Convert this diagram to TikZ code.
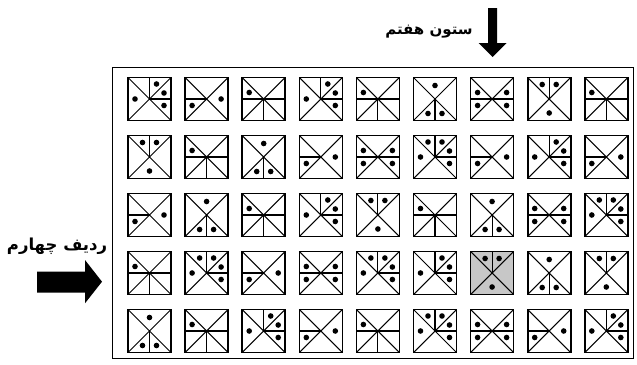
\documentclass[tikz,border=0pt]{standalone}
\usepackage{fontspec}
\newfontfamily\arabicfont[Script=Arabic]{DejaVu Sans}
\TeXXeTstate=1
\tikzset{
  tileborder/.style={line width=1.6pt},
  tileinner/.style={line width=1.05pt},
  tiledot/.style={fill=black},
  tilegray/.style={fill=black!22},
  framebox/.style={line width=1pt},
  labeltext/.style={inner sep=0pt, font=\arabicfont\bfseries},
  pics/tbase/.style={code={
    \draw[tileinner] (0,0)--(43,43) (43,0)--(0,43);
  }},
  pics/tborder/.style={code={
    \draw[tileborder] (0,0) rectangle (43,43);
  }},
  % T1: full horizontal + bottom vertical, dot left-upper
  pics/tone/.style={code={
    \pic{tbase};
    \draw[tileinner] (0,21.5)--(43,21.5) (21.5,21.5)--(21.5,43);
    \fill[tiledot] (7,15) circle (2.8pt);
    \pic{tborder};
  }},
  % T2: left horizontal, dots left-lower and right
  pics/ttwo/.style={code={
    \pic{tbase};
    \draw[tileinner] (0,21.5)--(21.5,21.5);
    \fill[tiledot] (7,28) circle (2.8pt) (36,21.5) circle (2.8pt);
    \pic{tborder};
  }},
  % T3a: top vertical, dots top-left, top-right, bottom
  pics/tthreea/.style={code={
    \pic{tbase};
    \draw[tileinner] (21.5,0)--(21.5,21.5);
    \fill[tiledot] (14.5,7) circle (2.8pt) (28.5,7) circle (2.8pt) (21.5,35.5) circle (2.8pt);
    \pic{tborder};
  }},
  % T3b: bottom vertical, dots top, bottom-left, bottom-right
  pics/tthreeb/.style={code={
    \pic{tbase};
    \draw[tileinner] (21.5,21.5)--(21.5,43);
    \fill[tiledot] (21.5,8) circle (2.8pt) (14.5,36) circle (2.8pt) (28.5,36) circle (2.8pt);
    \pic{tborder};
  }},
  % T4a: full horizontal, four dots
  pics/tfoura/.style={code={
    \pic{tbase};
    \draw[tileinner] (0,21.5)--(43,21.5);
    \fill[tiledot] (7,15) circle (2.8pt) (7,28) circle (2.8pt) (36,15) circle (2.8pt) (36,28) circle (2.8pt);
    \pic{tborder};
  }},
  % T4b: top vertical + right horizontal, dots left, top-right, right-up, right-low
  pics/tfourb/.style={code={
    \pic{tbase};
    \draw[tileinner] (21.5,0)--(21.5,21.5)--(43,21.5);
    \fill[tiledot] (7,21.5) circle (2.8pt) (28.5,6.5) circle (2.8pt) (36,15.5) circle (2.8pt) (36,28) circle (2.8pt);
    \pic{tborder};
  }},
  % T5: top vertical + right horizontal, five dots
  pics/tfive/.style={code={
    \pic{tbase};
    \draw[tileinner] (21.5,0)--(21.5,21.5)--(43,21.5);
    \fill[tiledot] (7,21.5) circle (2.8pt) (14.5,6.5) circle (2.8pt) (28.5,6.5) circle (2.8pt) (36,15.5) circle (2.8pt) (36,28) circle (2.8pt);
    \pic{tborder};
  }},
}
\begin{document}
\begin{tikzpicture}[x=1pt,y=-1pt]
\useasboundingbox (0,0) rectangle (637,364);
\fill[white] (0,0) rectangle (637,364);
\draw[framebox] (112.5,67) rectangle (633,358);

% row 1
\pic (r1c1) at (128,77.5) {tfourb};
\pic (r1c2) at (185.1,77.5) {ttwo};
\pic (r1c3) at (242.2,77.5) {tone};
\pic (r1c4) at (299.3,77.5) {tfourb};
\pic (r1c5) at (356.4,77.5) {tone};
\pic (r1c6) at (413.5,77.5) {tthreeb};
\pic (r1c7) at (470.6,77.5) {tfoura};
\pic (r1c8) at (527.7,77.5) {tthreea};
\pic (r1c9) at (584.8,77.5) {tone};
% row 2
\pic (r2c1) at (128,135.5) {tthreea};
\pic (r2c2) at (185.1,135.5) {tone};
\pic (r2c3) at (242.2,135.5) {tthreeb};
\pic (r2c4) at (299.3,135.5) {ttwo};
\pic (r2c5) at (356.4,135.5) {tfoura};
\pic (r2c6) at (413.5,135.5) {tfive};
\pic (r2c7) at (470.6,135.5) {ttwo};
\pic (r2c8) at (527.7,135.5) {tfourb};
\pic (r2c9) at (584.8,135.5) {ttwo};
% row 3
\pic (r3c1) at (128,193.5) {ttwo};
\pic (r3c2) at (185.1,193.5) {tthreeb};
\pic (r3c3) at (242.2,193.5) {tone};
\pic (r3c4) at (299.3,193.5) {tfourb};
\pic (r3c5) at (356.4,193.5) {tthreea};
\pic (r3c6) at (413.5,193.5) {tone};
\pic (r3c7) at (470.6,193.5) {tthreeb};
\pic (r3c8) at (527.7,193.5) {tfoura};
\pic (r3c9) at (584.8,193.5) {tfive};
% row 4
\pic (r4c1) at (128,251.5) {tone};
\pic (r4c2) at (185.1,251.5) {tfive};
\pic (r4c3) at (242.2,251.5) {ttwo};
\pic (r4c4) at (299.3,251.5) {tfoura};
\pic (r4c5) at (356.4,251.5) {tfive};
\pic (r4c6) at (413.5,251.5) {tfourb};
\fill[tilegray] (470.6,251.5) rectangle +(43,43);
\pic (r4c7) at (470.6,251.5) {tthreea};
\pic (r4c8) at (527.7,251.5) {tthreeb};
\pic (r4c9) at (584.8,251.5) {tthreea};
% row 5
\pic (r5c1) at (128,309.5) {tthreeb};
\pic (r5c2) at (185.1,309.5) {tone};
\pic (r5c3) at (242.2,309.5) {tfourb};
\pic (r5c4) at (299.3,309.5) {ttwo};
\pic (r5c5) at (356.4,309.5) {tone};
\pic (r5c6) at (413.5,309.5) {tfive};
\pic (r5c7) at (470.6,309.5) {tfoura};
\pic (r5c8) at (527.7,309.5) {ttwo};
\pic (r5c9) at (584.8,309.5) {tfourb};

% labels
\node[labeltext, font=\arabicfont\bfseries\fontsize{15}{17}\selectfont] (collabel) at (429,32) {\beginR ستون هفتم\endR};
\node[labeltext, font=\arabicfont\bfseries\fontsize{16.5}{18}\selectfont] (rowlabel) at (57,246) {\beginR ردیف چهارم\endR};

% block arrows
\fill (488,8) -- (497,8) -- (497,43) -- (506.5,43) -- (492.5,57) -- (478.5,43) -- (488,43) -- cycle;
\fill (37,271.5) -- (85,271.5) -- (85,260) -- (102,281.7) -- (85,303.3) -- (85,292.5) -- (37,292.5) -- cycle;
\end{tikzpicture}
\end{document}
